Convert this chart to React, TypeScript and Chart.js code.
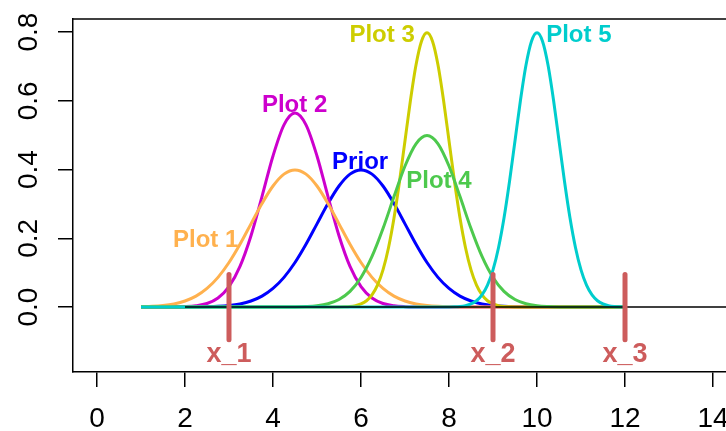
import React, { useEffect, useRef } from "react";
import { Chart, registerables } from "chart.js";

Chart.register(...registerables);

// ---- Axis ticks ----
const xTicks = [0, 2, 4, 6, 8, 10, 12, 14];
const yTicks = [0, 0.2, 0.4, 0.6, 0.8];

// ---- Curves ----
const priorX = [1, 2, 2.25, 2.5, 2.75, 3, 3.25, 3.5, 3.75, 4, 4.25, 4.5, 4.75, 5, 5.25, 5.5, 5.75, 6, 6.25, 6.5, 6.75, 7, 7.25, 7.5, 7.75, 8, 8.25, 8.5, 8.75, 9, 9.25, 9.5, 9.75, 10, 12];
const priorY = [0, 0.0001, 0.0004, 0.0009, 0.002, 0.0044, 0.0091, 0.0175, 0.0317, 0.054, 0.0863, 0.1295, 0.1826, 0.242, 0.3011, 0.3521, 0.3867, 0.3989, 0.3867, 0.3521, 0.3011, 0.242, 0.1826, 0.1295, 0.0863, 0.054, 0.0317, 0.0175, 0.0091, 0.0044, 0.002, 0.0009, 0.0004, 0.0001, 0];

const plot1X = [1, 1.25, 1.5, 1.75, 2, 2.25, 2.5, 2.75, 3, 3.25, 3.5, 3.75, 4, 4.25, 4.5, 4.75, 5, 5.25, 5.5, 5.75, 6, 6.25, 6.5, 6.75, 7, 7.25, 7.5, 7.75, 8, 8.25, 8.5, 12];
const plot1Y = [0.0009, 0.002, 0.0044, 0.0091, 0.0175, 0.0317, 0.054, 0.0863, 0.1295, 0.1826, 0.242, 0.3011, 0.3521, 0.3867, 0.3989, 0.3867, 0.3521, 0.3011, 0.242, 0.1826, 0.1295, 0.0863, 0.054, 0.0317, 0.0175, 0.0091, 0.0044, 0.002, 0.0009, 0.0004, 0.0001, 0];

const plot2X = [1, 1.5, 1.75, 2, 2.25, 2.5, 2.75, 3, 3.25, 3.5, 3.75, 4, 4.25, 4.5, 4.75, 5, 5.25, 5.5, 5.75, 6, 6.25, 6.5, 6.75, 7, 7.25, 7.5, 12];
const plot2Y = [0, 0.0001, 0.0003, 0.0011, 0.0036, 0.0103, 0.0264, 0.0595, 0.1183, 0.2076, 0.3215, 0.4394, 0.5299, 0.5642, 0.5299, 0.4394, 0.3215, 0.2076, 0.1183, 0.0595, 0.0264, 0.0103, 0.0036, 0.0011, 0.0003, 0.0001, 0];

const plot3X = [1, 5.5, 5.625, 5.75, 5.875, 6, 6.125, 6.25, 6.375, 6.5, 6.625, 6.75, 6.875, 7, 7.125, 7.25, 7.375, 7.5, 7.625, 7.75, 7.875, 8, 8.125, 8.25, 8.375, 8.5, 8.625, 8.75, 8.875, 9, 9.125, 9.25, 9.375, 9.5, 12];
const plot3Y = [0, 0.0003, 0.0007, 0.0017, 0.0041, 0.0089, 0.0182, 0.0351, 0.0635, 0.108, 0.1726, 0.259, 0.3653, 0.4839, 0.6023, 0.7041, 0.7733, 0.7979, 0.7733, 0.7041, 0.6023, 0.4839, 0.3653, 0.259, 0.1726, 0.108, 0.0635, 0.0351, 0.0182, 0.0089, 0.0041, 0.0017, 0.0007, 0.0003, 0];

const plot4X = [1, 4.25, 4.5, 4.75, 5, 5.25, 5.5, 5.75, 6, 6.25, 6.5, 6.75, 7, 7.25, 7.5, 7.75, 8, 8.25, 8.5, 8.75, 9, 9.25, 9.5, 9.75, 10, 10.25, 10.5, 10.75, 12];
const plot4Y = [0, 0.0001, 0.0004, 0.0014, 0.0038, 0.0096, 0.0219, 0.0456, 0.086, 0.1471, 0.2283, 0.3213, 0.4102, 0.4749, 0.4987, 0.4749, 0.4102, 0.3213, 0.2283, 0.1471, 0.086, 0.0456, 0.0219, 0.0096, 0.0038, 0.0014, 0.0004, 0.0001, 0];

const plot5X = [1, 8, 8.125, 8.25, 8.375, 8.5, 8.625, 8.75, 8.875, 9, 9.125, 9.25, 9.375, 9.5, 9.625, 9.75, 9.875, 10, 10.125, 10.25, 10.375, 10.5, 10.625, 10.75, 10.875, 11, 11.125, 11.25, 11.375, 11.5, 11.625, 11.75, 11.875, 12];
const plot5Y = [0, 0.0003, 0.0007, 0.0017, 0.0041, 0.0089, 0.0182, 0.0351, 0.0635, 0.108, 0.1726, 0.259, 0.3653, 0.4839, 0.6023, 0.7041, 0.7733, 0.7979, 0.7733, 0.7041, 0.6023, 0.4839, 0.3653, 0.259, 0.1726, 0.108, 0.0635, 0.0351, 0.0182, 0.0089, 0.0041, 0.0017, 0.0007, 0.0003];

// zero reference line
const zeroLineX = [2, 15];
const zeroLineY = [0, 0];

// observation markers
const markerX = [3, 9, 12];
const markerY = [-0.095, 0.095];
const markerLabels = ["x_1", "x_2", "x_3"];
const markerLabelY = -0.133;

// curve labels (data coordinates)
const curveLabels = ["Plot 1", "Plot 2", "Prior", "Plot 3", "Plot 4", "Plot 5"];
const curveLabelX = [2.47, 4.49, 5.98, 6.48, 7.77, 10.95];
const curveLabelY = [0.199, 0.593, 0.428, 0.797, 0.37, 0.797];

const COLORS = {
  prior: "#0000FF",
  plot1: "#FFB14E",
  plot2: "#CD00CD",
  plot3: "#CDCD00",
  plot4: "#4DC94D",
  plot5: "#00CDCD",
  marker: "#CD5C5C",
};
const labelColors = [COLORS.plot1, COLORS.plot2, COLORS.prior, COLORS.plot3, COLORS.plot4, COLORS.plot5];

const FONT = '"Liberation Sans", Arial, Helvetica, sans-serif';

function pts(xs: number[], ys: number[]) {
  return xs.map((x, i) => ({ x, y: ys[i] }));
}

export default function App() {
  const ref = useRef<HTMLCanvasElement | null>(null);

  useEffect(() => {
    const canvas = ref.current;
    if (!canvas) return;

    const curve = (data: { x: number; y: number }[], color: string, order: number) => ({
      data,
      borderColor: color,
      backgroundColor: color,
      borderWidth: 3,
      pointRadius: 0,
      fill: false,
      cubicInterpolationMode: "monotone" as const,
      order,
    });

    const markerSets = markerX.map((mx) => ({
      data: markerY.map((y) => ({ x: mx, y })),
      borderColor: COLORS.marker,
      borderWidth: 5,
      borderCapStyle: "round" as const,
      pointRadius: 0,
      fill: false,
      order: 0,
    }));

    const overlay = {
      id: "overlay",
      afterDraw(chart: any) {
        const { ctx, chartArea, scales } = chart;
        const xs = scales.x;
        const ys = scales.y;
        ctx.save();
        // top frame line
        ctx.strokeStyle = "#000";
        ctx.lineWidth = 1.5;
        ctx.beginPath();
        ctx.moveTo(chartArea.left, chartArea.top);
        ctx.lineTo(chartArea.right, chartArea.top);
        ctx.stroke();

        // tick labels
        ctx.fillStyle = "#000";
        ctx.font = `28px ${FONT}`;
        ctx.textAlign = "center";
        ctx.textBaseline = "alphabetic";
        xTicks.forEach((v) => {
          ctx.fillText(String(v), xs.getPixelForValue(v), chartArea.bottom + 55);
        });
        yTicks.forEach((v) => {
          ctx.save();
          ctx.translate(chartArea.left - 36.3, ys.getPixelForValue(v));
          ctx.rotate(-Math.PI / 2);
          ctx.fillText(v.toFixed(1), 0, 0);
          ctx.restore();
        });

        // curve labels
        ctx.font = `bold 24px ${FONT}`;
        curveLabels.forEach((t, i) => {
          ctx.fillStyle = labelColors[i];
          ctx.fillText(t, xs.getPixelForValue(curveLabelX[i]), ys.getPixelForValue(curveLabelY[i]) + 8.6);
        });
        // marker labels
        ctx.font = `bold 27px ${FONT}`;
        ctx.fillStyle = COLORS.marker;
        markerLabels.forEach((t, i) => {
          ctx.fillText(t, xs.getPixelForValue(markerX[i]), ys.getPixelForValue(markerLabelY) + 9.7);
        });
        ctx.restore();
      },
    };

    const chart = new Chart(canvas, {
      type: "line",
      data: {
        datasets: [
          ...markerSets,
          {
            data: pts(zeroLineX, zeroLineY),
            borderColor: "#000",
            borderWidth: 1.5,
            pointRadius: 0,
            fill: false,
            order: 1,
          },
          curve(pts(plot5X, plot5Y), COLORS.plot5, 2),
          curve(pts(plot4X, plot4Y), COLORS.plot4, 3),
          curve(pts(plot3X, plot3Y), COLORS.plot3, 4),
          curve(pts(plot1X, plot1Y), COLORS.plot1, 5),
          curve(pts(plot2X, plot2Y), COLORS.plot2, 6),
          curve(pts(priorX, priorY), COLORS.prior, 7),
        ] as any,
      },
      options: {
        animation: false,
        responsive: false,
        devicePixelRatio: 1,
        events: [],
        layout: { padding: { top: 19, left: 0, right: 0, bottom: 0 } },
        plugins: {
          legend: { display: false },
          tooltip: { enabled: false },
        },
        scales: {
          x: {
            type: "linear",
            min: -0.545,
            max: 14.295,
            afterBuildTicks: (s: any) => {
              s.ticks = xTicks.map((v) => ({ value: v }));
            },
            afterFit: (s: any) => {
              s.height = 59;
            },
            ticks: { display: false },
            grid: {
              drawOnChartArea: false,
              drawTicks: true,
              tickLength: 15,
              color: "#000",
              lineWidth: 1.5,
            },
            border: { display: true, color: "#000", width: 1.5 },
          },
          y: {
            type: "linear",
            min: -0.189,
            max: 0.838,
            afterBuildTicks: (s: any) => {
              s.ticks = yTicks.map((v) => ({ value: v }));
            },
            afterFit: (s: any) => {
              s.width = 73;
            },
            ticks: { display: false },
            grid: {
              drawOnChartArea: false,
              drawTicks: true,
              tickLength: 15,
              color: "#000",
              lineWidth: 1.5,
            },
            border: { display: true, color: "#000", width: 1.5 },
          },
        },
      } as any,
      plugins: [overlay],
    });

    return () => {
      chart.destroy();
    };
  }, []);

  return (
    <div style={{ position: "absolute", left: 0, top: 0, width: 726, height: 431, background: "#fff" }}>
      <canvas ref={ref} width={726} height={431} style={{ display: "block", width: 726, height: 431 }} />
    </div>
  );
}
